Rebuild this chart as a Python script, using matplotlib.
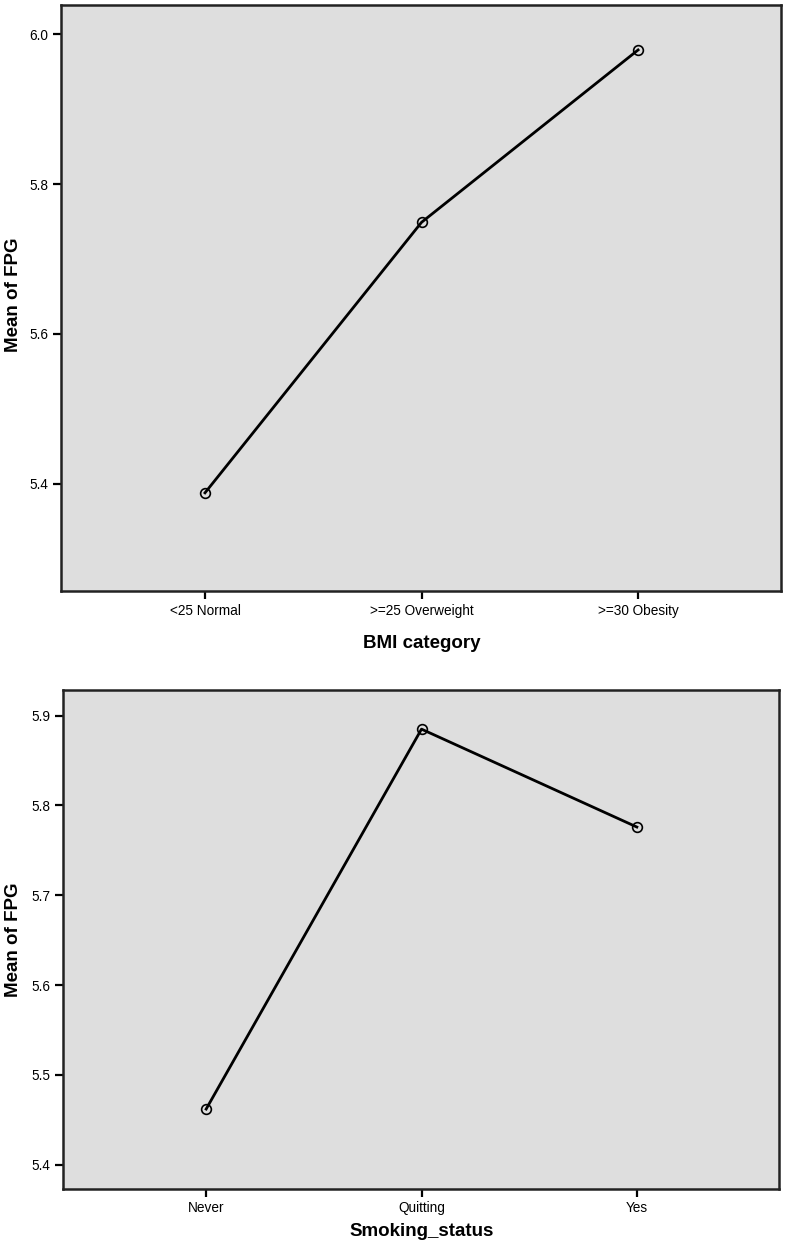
import matplotlib
matplotlib.use("Agg")
import matplotlib.pyplot as plt

plt.rcParams['font.family'] = ['Liberation Sans', 'DejaVu Sans']

# Means of FPG by group
bmi_cats = ["<25 Normal", ">=25 Overweight", ">=30 Obesity"]
bmi_fpg = [5.388, 5.749, 5.979]

smoke_cats = ["Never", "Quitting", "Yes"]
smoke_fpg = [5.462, 5.885, 5.776]

bg = "#dedede"
W, H = 787, 1245

fig = plt.figure(figsize=(W / 100, H / 100), dpi=100)
ax1 = fig.add_axes([0.0775, 0.5253, 0.9149, 0.4707])
ax2 = fig.add_axes([0.0800, 0.0450, 0.9098, 0.4008])


def style(ax, cats, vals, ylim, yticks):
    x = list(range(1, len(cats) + 1))
    ax.set_facecolor(bg)
    ax.plot(x, vals, color="black", lw=2, zorder=2)
    ax.plot(x, vals, "o", ms=7, mfc="none", mec="black", mew=1.2, zorder=3)
    ax.set_xlim(0.335, 3.66)
    ax.set_ylim(*ylim)
    ax.set_xticks(x)
    ax.set_xticklabels(cats)
    ax.set_yticks(yticks)
    ax.set_yticklabels([f"{v:.1f}" for v in yticks])
    ax.tick_params(direction="out", length=6, width=1.6, labelsize=9.8, pad=3)
    for s in ax.spines.values():
        s.set_linewidth(1.8)
        s.set_color("#222222")


style(ax1, bmi_cats, bmi_fpg, (5.257, 6.039), [5.4, 5.6, 5.8, 6.0])
style(ax2, smoke_cats, smoke_fpg, (5.373, 5.9286), [5.4, 5.5, 5.6, 5.7, 5.8, 5.9])

# axis titles placed in pixel terms of the figure
lab = dict(fontsize=13.5, fontweight="bold", ha="center", va="center")
fig.text(422 / W, 1 - 643 / H, "BMI category", **lab)
fig.text(422 / W, 1 - 1232 / H, "Smoking_status", **lab)
fig.text(14 / W, 1 - 295 / H, "Mean of FPG", rotation=90, **lab)
fig.text(14 / W, 1 - 940 / H, "Mean of FPG", rotation=90, **lab)

fig.savefig("out.png", dpi=100)
